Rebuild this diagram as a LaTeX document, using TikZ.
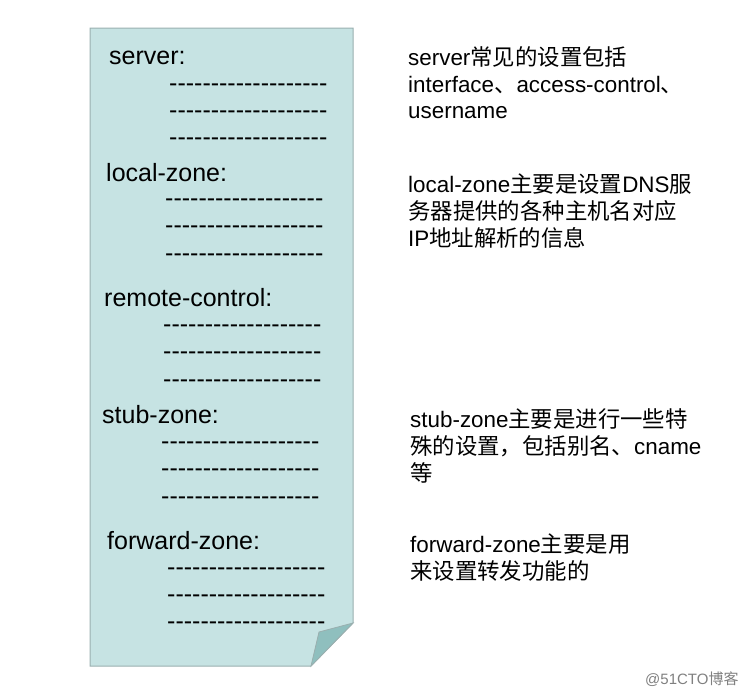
\documentclass[tikz,border=0pt]{standalone}
\usepackage{fontspec}
\setmainfont{Liberation Sans}
\newfontfamily\cjk{Noto Sans CJK SC}
\newcommand\zh[1]{{\cjk #1}}
\newcommand\dashrow{\foreach\i in {1,...,19}{-\kern0pt}}
\definecolor{pagefill}{HTML}{C6E3E3}
\definecolor{pageedge}{HTML}{9AAFAF}
\definecolor{foldfill}{HTML}{8FBFBE}
\definecolor{wmgray}{HTML}{808080}
\begin{document}
\begin{tikzpicture}[x=1pt,y=-1pt,
  lbl/.style={anchor=base west,inner sep=0pt,font=\fontsize{25}{30}\selectfont},
  dsh/.style={anchor=base west,inner sep=0pt,font=\fontsize{25}{30}\selectfont},
  note/.style={anchor=base west,inner sep=0pt,font=\fontsize{22.4}{26}\selectfont},
  wm/.style={anchor=base west,inner sep=0pt,text=wmgray,font=\fontsize{15}{18}\selectfont}]
\useasboundingbox (0,0) rectangle (754,696);
% page
\draw[pageedge,fill=pagefill,line width=1pt] (90,28) -- (353,28) -- (353,623) -- (311,666) -- (90,666) -- cycle;
\draw[pageedge,fill=foldfill,line width=0.8pt] (353,623) -- (319,632) -- (311,666) -- cycle;
% left labels
\node[lbl] (s) at (109,64) {server:};
\node[dsh] (s1) at (169,91) {\dashrow};
\node[dsh] (s2) at (169,118) {\dashrow};
\node[dsh] (s3) at (169,145) {\dashrow};
\node[lbl] (l) at (106,181) {local-zone:};
\node[dsh] (l1) at (165,206) {\dashrow};
\node[dsh] (l2) at (165,233) {\dashrow};
\node[dsh] (l3) at (165,261) {\dashrow};
\node[lbl] (r) at (104,306) {remote-control:};
\node[dsh] (r1) at (163,332) {\dashrow};
\node[dsh] (r2) at (163,359) {\dashrow};
\node[dsh] (r3) at (163,387) {\dashrow};
\node[lbl] (t) at (102,423) {stub-zone:};
\node[dsh] (t1) at (161,449) {\dashrow};
\node[dsh] (t2) at (161,476) {\dashrow};
\node[dsh] (t3) at (161,504) {\dashrow};
\node[lbl] (f) at (107,549) {forward-zone:};
\node[dsh] (f1) at (167,575) {\dashrow};
\node[dsh] (f2) at (167,602) {\dashrow};
\node[dsh] (f3) at (167,629) {\dashrow};
% right notes
\node[note] (n1a) at (408,65) {server\zh{常见的设置包括}};
\node[note] (n1b) at (408,92) {interface\zh{、}access-control\zh{、}};
\node[note] (n1c) at (408,118) {username};
\node[note] (n2a) at (408,192) {local-zone\zh{主要是设置}DNS\zh{服}};
\node[note] (n2b) at (408,219) {\zh{务器提供的各种主机名对应}};
\node[note] (n2c) at (408,246) {IP\zh{地址解析的信息}};
\node[note] (n3a) at (410,427) {stub-zone\zh{主要是进行一些特}};
\node[note] (n3b) at (410,454) {\zh{殊的设置，包括别名、}cname};
\node[note] (n3c) at (410,481) {\zh{等}};
\node[note] (n4a) at (410,552) {forward-zone\zh{主要是用}};
\node[note] (n4b) at (410,579) {\zh{来设置转发功能的}};
% watermark
\node[wm] (wmk) at (645,684) {@51CTO\zh{博客}};
\end{tikzpicture}
\end{document}
